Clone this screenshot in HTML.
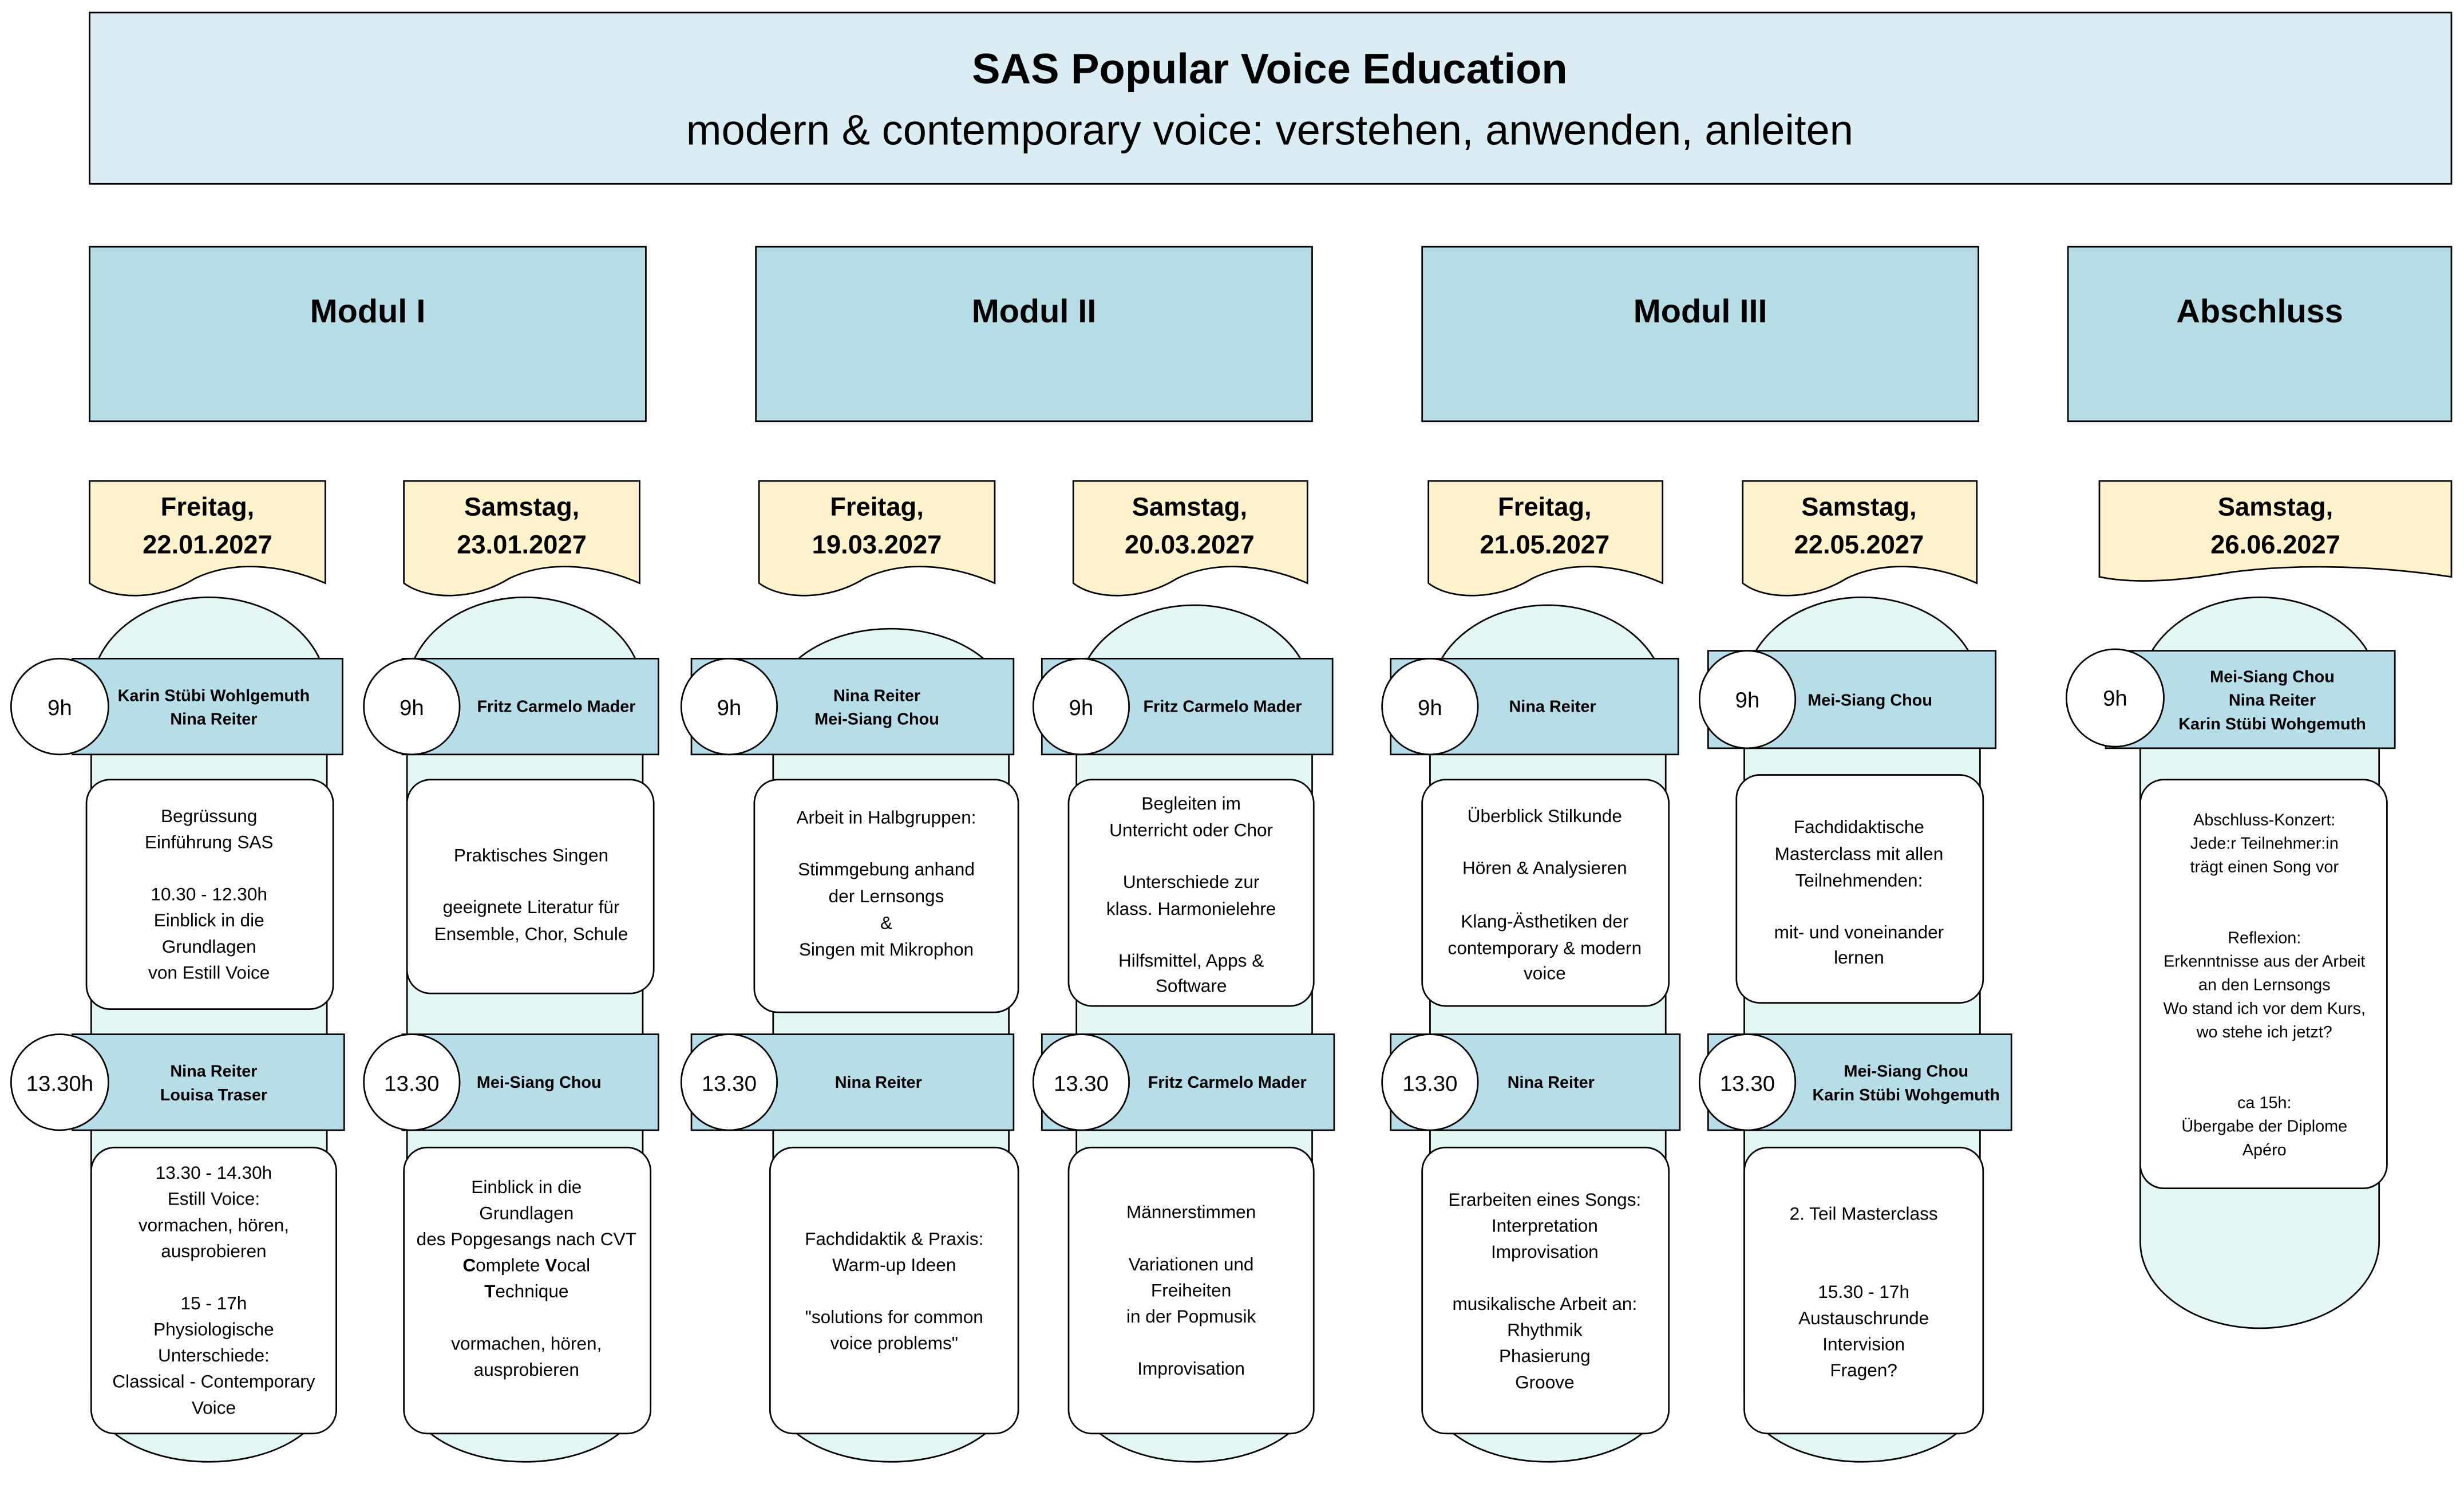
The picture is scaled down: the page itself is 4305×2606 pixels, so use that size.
<!DOCTYPE html>
<html><head><meta charset="utf-8"><style>
html,body{margin:0;padding:0;background:#fff}
svg{display:block}
text{font-family:"Liberation Sans",sans-serif;fill:#000}
.c{text-anchor:middle;font-size:11.5px}
.h{text-anchor:middle;font-size:10.5px;font-weight:bold}
.t{text-anchor:middle;font-size:14px}
.d{text-anchor:middle;font-size:16.5px;font-weight:bold}
.m{text-anchor:middle;font-size:21px;font-weight:bold}
.cap{fill:#e2f6f5;stroke:#000;stroke-width:1}
.hd{fill:#b7dde8;stroke:#000;stroke-width:1}
.ci{fill:#fff;stroke:#000;stroke-width:1}
.bx{fill:#fff;stroke:#000;stroke-width:1}
.doc{fill:#fff2cc;stroke:#000;stroke-width:1}
</style></head><body>
<svg width="4305" height="2606" viewBox="0 0 1568 949.2" xmlns="http://www.w3.org/2000/svg">
<rect x="57" y="8" width="1503" height="109" fill="#daedf3" stroke="#000"/>
<text x="808" y="53" style="text-anchor:middle;font-size:27px;font-weight:bold">SAS Popular Voice Education</text>
<text x="808" y="92" style="text-anchor:middle;font-size:27px">modern &amp; contemporary voice: verstehen, anwenden, anleiten</text>

<rect x="57" y="157" width="354" height="111" fill="#b6dce6" stroke="#000"/><text class="m" x="234" y="205">Modul I</text>
<rect x="481" y="157" width="354" height="111" fill="#b6dce6" stroke="#000"/><text class="m" x="658" y="205">Modul II</text>
<rect x="905" y="157" width="354" height="111" fill="#b6dce6" stroke="#000"/><text class="m" x="1082" y="205">Modul III</text>
<rect x="1316" y="157" width="244" height="111" fill="#b6dce6" stroke="#000"/><text class="m" x="1438" y="205">Abschluss</text>

<!-- docs -->
<path class="doc" d="M57,306H207V371C177,358 147,357 124,368C102,382 72,382 57,371Z"/>
<text class="d" x="132" y="328">Freitag,</text><text class="d" x="132" y="352">22.01.2027</text>
<path class="doc" d="M257,306H407V371C377,358 347,357 324,368C302,382 272,382 257,371Z"/>
<text class="d" x="332" y="328">Samstag,</text><text class="d" x="332" y="352">23.01.2027</text>
<path class="doc" d="M483,306H633V371C603,358 573,357 550,368C528,382 498,382 483,371Z"/>
<text class="d" x="558" y="328">Freitag,</text><text class="d" x="558" y="352">19.03.2027</text>
<path class="doc" d="M683,306H832V371C802,358 772,357 749,368C727,382 697,382 683,371Z"/>
<text class="d" x="757" y="328">Samstag,</text><text class="d" x="757" y="352">20.03.2027</text>
<path class="doc" d="M909,306H1058V371C1028,358 998,357 975,368C953,382 923,382 909,371Z"/>
<text class="d" x="983" y="328">Freitag,</text><text class="d" x="983" y="352">21.05.2027</text>
<path class="doc" d="M1109,306H1258V371C1228,358 1198,357 1175,368C1153,382 1123,382 1109,371Z"/>
<text class="d" x="1183" y="328">Samstag,</text><text class="d" x="1183" y="352">22.05.2027</text>
<path class="doc" d="M1336,306H1560V367C1500,358 1450,360 1420,364C1390,369 1360,372 1336,367Z"/>
<text class="d" x="1448" y="328">Samstag,</text><text class="d" x="1448" y="352">26.06.2027</text>

<!-- capsules -->
<path class="cap" d="M58,440A75,60 0 0 1 208,440V885A75,45 0 0 1 58,885Z"/>
<path class="cap" d="M259,440A75,60 0 0 1 409,440V885A75,45 0 0 1 259,885Z"/>
<path class="cap" d="M492,450A75,50 0 0 1 642,450V885A75,45 0 0 1 492,885Z"/>
<path class="cap" d="M685,445A75,60 0 0 1 835,445V885A75,45 0 0 1 685,885Z"/>
<path class="cap" d="M910,445A75,60 0 0 1 1060,445V885A75,45 0 0 1 910,885Z"/>
<path class="cap" d="M1110,440A75,60 0 0 1 1260,440V885A75,45 0 0 1 1110,885Z"/>
<path class="cap" d="M1362,440A76,60 0 0 1 1514,440V790A76,55 0 0 1 1362,790Z"/>

<!-- headers row 1 -->
<rect class="hd" x="46" y="419" width="172" height="61"/><ellipse class="ci" cx="38" cy="449.5" rx="31" ry="30.5"/><text class="t" x="38" y="455">9h</text>
<text class="h" x="136" y="446">Karin Stübi Wohlgemuth</text><text class="h" x="136" y="461">Nina Reiter</text>
<rect class="hd" x="256" y="419" width="163" height="61"/><ellipse class="ci" cx="262" cy="449.5" rx="30.5" ry="30.5"/><text class="t" x="262" y="455">9h</text>
<text class="h" x="354" y="453">Fritz Carmelo Mader</text>
<rect class="hd" x="440" y="419" width="205" height="61"/><ellipse class="ci" cx="464" cy="449.5" rx="30.5" ry="30.5"/><text class="t" x="464" y="455">9h</text>
<text class="h" x="558" y="446">Nina Reiter</text><text class="h" x="558" y="461">Mei-Siang Chou</text>
<rect class="hd" x="663" y="419" width="185" height="61"/><ellipse class="ci" cx="688" cy="449.5" rx="30.5" ry="30.5"/><text class="t" x="688" y="455">9h</text>
<text class="h" x="778" y="453">Fritz Carmelo Mader</text>
<rect class="hd" x="885" y="419" width="183" height="61"/><ellipse class="ci" cx="910" cy="449.5" rx="30.5" ry="30.5"/><text class="t" x="910" y="455">9h</text>
<text class="h" x="988" y="453">Nina Reiter</text>
<rect class="hd" x="1087" y="414" width="183" height="62"/><ellipse class="ci" cx="1112" cy="445" rx="30.5" ry="31"/><text class="t" x="1112" y="450">9h</text>
<text class="h" x="1190" y="449">Mei-Siang Chou</text>
<rect class="hd" x="1340" y="414" width="184" height="62"/><ellipse class="ci" cx="1346" cy="444" rx="31" ry="31"/><text class="t" x="1346" y="449">9h</text>
<text class="h" x="1446" y="434">Mei-Siang Chou</text><text class="h" x="1446" y="449">Nina Reiter</text><text class="h" x="1446" y="464">Karin Stübi Wohgemuth</text>

<!-- headers row 2 -->
<rect class="hd" x="46" y="658" width="173" height="61"/><ellipse class="ci" cx="38" cy="688.5" rx="31" ry="30.5"/><text class="t" x="38" y="694">13.30h</text>
<text class="h" x="136" y="685">Nina Reiter</text><text class="h" x="136" y="700">Louisa Traser</text>
<rect class="hd" x="256" y="658" width="163" height="61"/><ellipse class="ci" cx="262" cy="688.5" rx="30.5" ry="30.5"/><text class="t" x="262" y="694">13.30</text>
<text class="h" x="343" y="692">Mei-Siang Chou</text>
<rect class="hd" x="440" y="658" width="205" height="61"/><ellipse class="ci" cx="464" cy="688.5" rx="30.5" ry="30.5"/><text class="t" x="464" y="694">13.30</text>
<text class="h" x="559" y="692">Nina Reiter</text>
<rect class="hd" x="663" y="658" width="186" height="61"/><ellipse class="ci" cx="688" cy="688.5" rx="30.5" ry="30.5"/><text class="t" x="688" y="694">13.30</text>
<text class="h" x="781" y="692">Fritz Carmelo Mader</text>
<rect class="hd" x="885" y="658" width="184" height="61"/><ellipse class="ci" cx="910" cy="688.5" rx="30.5" ry="30.5"/><text class="t" x="910" y="694">13.30</text>
<text class="h" x="987" y="692">Nina Reiter</text>
<rect class="hd" x="1087" y="658" width="193" height="61"/><ellipse class="ci" cx="1112" cy="688.5" rx="30.5" ry="30.5"/><text class="t" x="1112" y="694">13.30</text>
<text class="h" x="1213" y="685">Mei-Siang Chou</text><text class="h" x="1213" y="700">Karin Stübi Wohgemuth</text>

<!-- boxes row 1 -->
<rect class="bx" x="55" y="496" width="157" height="146" rx="15"/>
<g class="c"><text class="c" x="133" y="523">Begrüssung</text><text class="c" x="133" y="539.6">Einführung SAS</text><text class="c" x="133" y="572.8">10.30 - 12.30h</text><text class="c" x="133" y="589.4">Einblick in die</text><text class="c" x="133" y="606">Grundlagen</text><text class="c" x="133" y="622.6">von Estill Voice</text></g>
<rect class="bx" x="259" y="496" width="157" height="136" rx="15"/>
<text class="c" x="338" y="548">Praktisches Singen</text><text class="c" x="338" y="581">geeignete Literatur für</text><text class="c" x="338" y="598">Ensemble, Chor, Schule</text>
<rect class="bx" x="480" y="496" width="168" height="148" rx="15"/>
<text class="c" x="564" y="524">Arbeit in Halbgruppen:</text><text class="c" x="564" y="557">Stimmgebung anhand</text><text class="c" x="564" y="574">der Lernsongs</text><text class="c" x="564" y="591">&amp;</text><text class="c" x="564" y="608">Singen mit Mikrophon</text>
<rect class="bx" x="680" y="496" width="156" height="144" rx="15"/>
<text class="c" x="758" y="515">Begleiten im</text><text class="c" x="758" y="532">Unterricht oder Chor</text><text class="c" x="758" y="565">Unterschiede zur</text><text class="c" x="758" y="582">klass. Harmonielehre</text><text class="c" x="758" y="615">Hilfsmittel, Apps &amp;</text><text class="c" x="758" y="631">Software</text>
<rect class="bx" x="905" y="496" width="157" height="144" rx="15"/>
<text class="c" x="983" y="523">Überblick Stilkunde</text><text class="c" x="983" y="556">Hören &amp; Analysieren</text><text class="c" x="983" y="590">Klang-Ästhetiken der</text><text class="c" x="983" y="607">contemporary &amp; modern</text><text class="c" x="983" y="623">voice</text>
<rect class="bx" x="1105" y="493" width="157" height="145" rx="15"/>
<text class="c" x="1183" y="530">Fachdidaktische</text><text class="c" x="1183" y="547">Masterclass mit allen</text><text class="c" x="1183" y="564">Teilnehmenden:</text><text class="c" x="1183" y="597">mit- und voneinander</text><text class="c" x="1183" y="613">lernen</text>
<rect class="bx" x="1362" y="496" width="157" height="260" rx="15"/>
<g style="font-size:10.5px"><text class="c" style="font-size:10.5px" x="1441" y="525">Abschluss-Konzert:</text><text class="c" style="font-size:10.5px" x="1441" y="540">Jede:r Teilnehmer:in</text><text class="c" style="font-size:10.5px" x="1441" y="555">trägt einen Song vor</text><text class="c" style="font-size:10.5px" x="1441" y="600">Reflexion:</text><text class="c" style="font-size:10.5px" x="1441" y="615">Erkenntnisse aus der Arbeit</text><text class="c" style="font-size:10.5px" x="1441" y="630">an den Lernsongs</text><text class="c" style="font-size:10.5px" x="1441" y="645">Wo stand ich vor dem Kurs,</text><text class="c" style="font-size:10.5px" x="1441" y="660">wo stehe ich jetzt?</text><text class="c" style="font-size:10.5px" x="1441" y="705">ca 15h:</text><text class="c" style="font-size:10.5px" x="1441" y="720">Übergabe der Diplome</text><text class="c" style="font-size:10.5px" x="1441" y="735">Apéro</text></g>

<!-- boxes row 2 -->
<rect class="bx" x="58" y="730" width="156" height="182" rx="15"/>
<text class="c" x="136" y="750">13.30 - 14.30h</text><text class="c" x="136" y="766.6">Estill Voice:</text><text class="c" x="136" y="783.2">vormachen, hören,</text><text class="c" x="136" y="799.8">ausprobieren</text><text class="c" x="136" y="833">15 - 17h</text><text class="c" x="136" y="849.6">Physiologische</text><text class="c" x="136" y="866.2">Unterschiede:</text><text class="c" x="136" y="882.8">Classical - Contemporary</text><text class="c" x="136" y="899.4">Voice</text>
<rect class="bx" x="257" y="730" width="157" height="182" rx="15"/>
<text class="c" x="335" y="759">Einblick in die</text><text class="c" x="335" y="775.6">Grundlagen</text><text class="c" x="335" y="792.2">des Popgesangs nach CVT</text><text class="c" x="335" y="808.8"><tspan font-weight="bold">C</tspan>omplete <tspan font-weight="bold">V</tspan>ocal</text><text class="c" x="335" y="825.4"><tspan font-weight="bold">T</tspan>echnique</text><text class="c" x="335" y="858.6">vormachen, hören,</text><text class="c" x="335" y="875.2">ausprobieren</text>
<rect class="bx" x="490" y="730" width="158" height="182" rx="15"/>
<text class="c" x="569" y="792">Fachdidaktik &amp; Praxis:</text><text class="c" x="569" y="808.6">Warm-up Ideen</text><text class="c" x="569" y="841.8">"solutions for common</text><text class="c" x="569" y="858.4">voice problems"</text>
<rect class="bx" x="680" y="730" width="156" height="182" rx="15"/>
<text class="c" x="758" y="775">Männerstimmen</text><text class="c" x="758" y="808.2">Variationen und</text><text class="c" x="758" y="824.8">Freiheiten</text><text class="c" x="758" y="841.4">in der Popmusik</text><text class="c" x="758" y="874.6">Improvisation</text>
<rect class="bx" x="905" y="730" width="157" height="182" rx="15"/>
<text class="c" x="983" y="767">Erarbeiten eines Songs:</text><text class="c" x="983" y="783.6">Interpretation</text><text class="c" x="983" y="800.2">Improvisation</text><text class="c" x="983" y="833.4">musikalische Arbeit an:</text><text class="c" x="983" y="850">Rhythmik</text><text class="c" x="983" y="866.6">Phasierung</text><text class="c" x="983" y="883.2">Groove</text>
<rect class="bx" x="1110" y="730" width="152" height="182" rx="15"/>
<text class="c" x="1186" y="776">2. Teil Masterclass</text><text class="c" x="1186" y="825.8">15.30 - 17h</text><text class="c" x="1186" y="842.4">Austauschrunde</text><text class="c" x="1186" y="859">Intervision</text><text class="c" x="1186" y="875.6">Fragen?</text>
</svg>
</body></html>
